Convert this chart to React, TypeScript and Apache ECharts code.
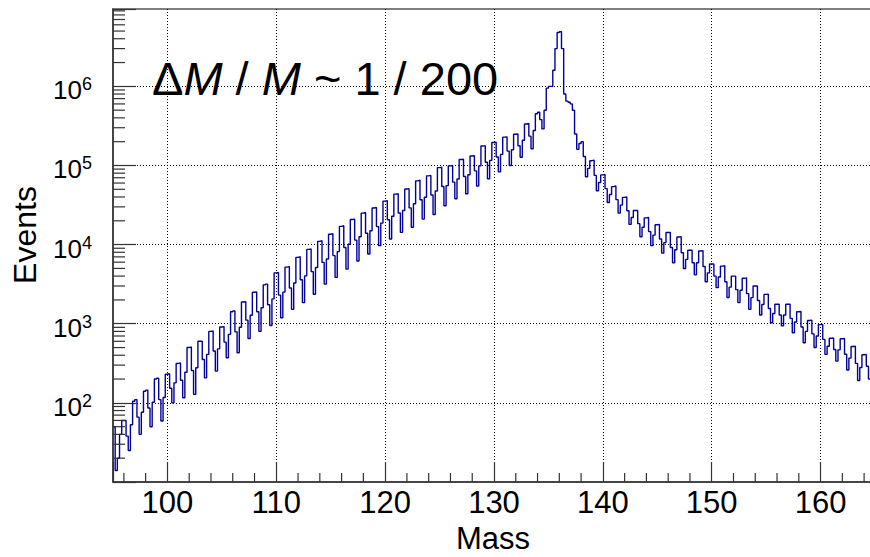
import React, { useEffect, useRef } from "react";
import * as echarts from "echarts";

// Histogram: 0.2-wide bins starting at mass 95 (5 bins per mass unit)
const BIN_START = 95;
const BIN_WIDTH = 0.2;

const counts95to104 = [
  50, 14, 20, 40, 60,
  60, 38, 25, 53, 105,
  110, 66, 40, 76, 140,
  145, 86, 50, 102, 200,
  205, 110, 59, 117, 230,
  233, 153, 100, 179, 315,
  320, 193, 116, 244, 500,
  510, 256, 128, 278, 600,
  600, 354, 207, 410, 800,
  810, 452, 252, 481, 910,
];
const counts105to114 = [
  920, 585, 372, 734, 1420,
  1450, 790, 430, 904, 1880,
  1900, 1110, 650, 1280, 2500,
  2530, 1420, 800, 1590, 3100,
  3170, 1740, 950, 2060, 4400,
  4450, 2300, 1190, 2510, 5200,
  5280, 2830, 1520, 3270, 6900,
  7020, 3600, 1850, 4030, 8700,
  8800, 4560, 2360, 5140, 11000,
  11200, 5960, 3170, 6590, 13500,
];
const counts115to124 = [
  13700, 7260, 3850, 8160, 17000,
  17300, 9210, 4900, 10100, 20800,
  21000, 11400, 6200, 12600, 25000,
  25500, 13900, 7600, 15000, 29000,
  29500, 16900, 9700, 18700, 35500,
  36000, 20600, 11800, 22800, 43500,
  44000, 25100, 14300, 27000, 50500,
  51000, 29100, 16600, 32800, 64000,
  65000, 36900, 21000, 39700, 74000,
  75000, 42400, 24000, 47700, 94000,
];
const counts125to134 = [
  95000, 54300, 31000, 55700, 99000,
  100000, 61600, 38000, 67500, 119000,
  120000, 72700, 44000, 76500, 132000,
  133000, 85500, 55000, 98900, 176000,
  178000, 110000, 68000, 116000, 195000,
  197000, 128000, 83000, 138000, 228000,
  230000, 152000, 100000, 158000, 248000,
  250000, 178000, 127000, 208000, 335000,
  340000, 235000, 163000, 277000, 450000,
  470000, 380000, 290000, 500000, 950000,
];
const counts135to144 = [
  1000000, 1000000, 1600000, 3000000, 4800000,
  4900000, 3000000, 800000, 650000, 630000,
  600000, 500000, 250000, 160000, 190000,
  200000, 130000, 72000, 92000, 115000,
  117000, 75000, 48000, 61000, 76000,
  77000, 51000, 34000, 43000, 54000,
  55000, 37000, 25000, 31600, 39500,
  40000, 26800, 18000, 22000, 27000,
  27000, 18400, 12600, 16600, 21800,
  22000, 14600, 9700, 13200, 17800,
];
const counts145to154 = [
  18000, 11800, 7800, 10600, 14200,
  14300, 9200, 5900, 8600, 12500,
  12600, 7900, 5000, 6500, 8500,
  8500, 5900, 4150, 5900, 8300,
  8400, 5300, 3400, 4400, 5700,
  5700, 4000, 2860, 3900, 5350,
  5400, 3400, 2150, 2900, 4000,
  4000, 2700, 1850, 2650, 3750,
  3800, 2400, 1520, 2140, 3000,
  3000, 1970, 1290, 1750, 2350,
];
const counts155to164 = [
  2370, 1560, 1030, 1350, 1760,
  1770, 1290, 940, 1290, 1760,
  1770, 1170, 770, 1050, 1420,
  1430, 910, 576, 800, 1100,
  1110, 745, 500, 700, 975,
  980, 634, 410, 520, 655,
  660, 472, 337, 468, 645,
  650, 411, 260, 368, 515,
  520, 316, 192, 280, 405,
  410, 290, 200, 260, 330,
];

// Axis tick labels
const X_LABELS = [100, 110, 120, 130, 140, 150, 160];
const Y_LABEL_EXPONENTS = [2, 3, 4, 5, 6];
const X_MINOR_TICKS = [
  96, 98, 102, 104, 106, 108, 112, 114, 116, 118, 122, 124, 126, 128,
  132, 134, 136, 138, 142, 144, 146, 148, 152, 154, 156, 158, 162, 164,
];
const Y_MINOR_MANTISSAS = [2, 3, 4, 5, 6, 7, 8, 9];
const Y_DECADES = [10, 100, 1000, 10000, 100000, 1000000];

const X_MIN = 95;
const X_MAX = 165;
const Y_MIN = 10;
const Y_MAX = 9.5e6;

const FONT = '"Liberation Sans", Arial, Helvetica, sans-serif';

export default function App() {
  const ref = useRef<HTMLDivElement>(null);

  useEffect(() => {
    if (!ref.current) return;
    const chart = echarts.init(ref.current, undefined, { renderer: "svg" });

    const bins = [
      ...counts95to104,
      ...counts105to114,
      ...counts115to124,
      ...counts125to134,
      ...counts135to144,
      ...counts145to154,
      ...counts155to164,
    ];
    const histData: number[][] = bins.map((v, i) => [
      Math.round((BIN_START + i * BIN_WIDTH) * 1000) / 1000,
      v,
    ]);
    histData.push([
      Math.round((BIN_START + bins.length * BIN_WIDTH) * 1000) / 1000,
      bins[bins.length - 1],
    ]);

    const tickItems: number[][] = [];
    Y_DECADES.forEach((d) =>
      Y_MINOR_MANTISSAS.forEach((m) => {
        const v = m * d;
        if (v > Y_MIN && v < Y_MAX) tickItems.push([X_MIN, v, 0]);
      })
    );
    X_MINOR_TICKS.forEach((x) => tickItems.push([x, Y_MIN, 1]));

    const dotted = { color: "#000", width: 1, type: [1, 2] as any };

    const option: any = {
      animation: false,
      backgroundColor: "#ffffff",
      grid: {
        left: 113,
        right: -5,
        top: 9,
        bottom: 75,
        show: true,
        borderColor: "#555",
        borderWidth: 1.5,
        containLabel: false,
        outerBoundsMode: "none",
      },
      xAxis: {
        type: "value",
        min: X_MIN,
        max: X_MAX,
        splitNumber: 7,
        axisLine: { show: true, onZero: false, lineStyle: { color: "#333", width: 1.5 } },
        axisTick: { show: true, inside: true, length: 20, lineStyle: { color: "#333", width: 1.2 } },
        minorTick: { show: false },
        axisLabel: {
          interval: 0,
          margin: 5,
          color: "#000",
          fontSize: 31,
          fontFamily: FONT,
          showMinLabel: true,
          showMaxLabel: true,
          formatter: (v: number) => (X_LABELS.indexOf(Math.round(v)) >= 0 && Math.abs(v - Math.round(v)) < 1e-6 ? String(Math.round(v)) : ""),
        },
        splitLine: { show: true, showMinLine: false, showMaxLine: false, lineStyle: dotted },
      },
      yAxis: {
        type: "log",
        logBase: 10,
        min: Y_MIN,
        max: Y_MAX,
        axisLine: { show: true, lineStyle: { color: "#333", width: 1.5 } },
        axisTick: { show: true, inside: true, length: 23, lineStyle: { color: "#333", width: 1.2 } },
        minorTick: { show: false },
        axisLabel: {
          interval: 0,
          margin: 21,
          color: "#000",
          padding: [8, 0, 0, 0],
          formatter: (v: number) => {
            const e = Math.round(Math.log10(v) * 1e4) / 1e4;
            if (Math.abs(e - Math.round(e)) > 1e-3) return "";
            const n = Math.round(e);
            if (Y_LABEL_EXPONENTS.indexOf(n) < 0) return "";
            return "{b|10}{s|" + n + "}";
          },
          rich: {
            b: { fontSize: 26, fontFamily: FONT, color: "#000", lineHeight: 30 },
            s: { fontSize: 18, fontFamily: FONT, color: "#000", lineHeight: 12, verticalAlign: "top" },
          },
        },
        splitLine: { show: true, showMinLine: false, showMaxLine: false, lineStyle: dotted },
      },
      series: [
        {
          type: "line",
          step: "end",
          data: histData,
          symbol: "none",
          showSymbol: false,
          lineStyle: { color: "#00009c", width: 1.4 },
          z: 3,
        },
        {
          type: "custom",
          coordinateSystem: "cartesian2d",
          silent: true,
          encode: { x: 0, y: 1 },
          data: tickItems,
          z: 4,
          renderItem: (_params: any, api: any) => {
            const kind = api.value(2);
            const p = api.coord([api.value(0), api.value(1)]);
            if (kind === 0) {
              return {
                type: "line",
                shape: { x1: p[0], y1: p[1], x2: p[0] + 12, y2: p[1] },
                style: { stroke: "#333", lineWidth: 1.2 },
              };
            }
            return {
              type: "line",
              shape: { x1: p[0], y1: p[1], x2: p[0], y2: p[1] - 9 },
              style: { stroke: "#333", lineWidth: 1.2 },
            };
          },
        },
      ],
      graphic: [
        {
          type: "text",
          x: 493,
          y: 538,
          style: {
            text: "Mass",
            fontSize: 31,
            fontFamily: FONT,
            fill: "#000",
            align: "center",
            verticalAlign: "middle",
          },
        },
        {
          type: "text",
          x: 25,
          y: 235,
          rotation: Math.PI / 2,
          style: {
            text: "Events",
            fontSize: 32,
            fontFamily: FONT,
            fill: "#000",
            align: "center",
            verticalAlign: "middle",
          },
        },
        {
          type: "text",
          x: 152,
          y: 78,
          style: {
            text: "{n|Δ}{i|M}{n| / }{i|M}{n| ~ 1 / 200}",
            align: "left",
            verticalAlign: "middle",
            rich: {
              n: { fontSize: 47, fontFamily: FONT, fill: "#000", color: "#000" },
              i: { fontSize: 47, fontFamily: FONT, fontStyle: "italic", fill: "#000", color: "#000" },
            },
          },
        },
      ],
    };

    chart.setOption(option);
    return () => chart.dispose();
  }, []);

  return (
    <div
      ref={ref}
      style={{ position: "absolute", left: 0, top: 0, width: 870, height: 557, background: "#fff" }}
    />
  );
}
